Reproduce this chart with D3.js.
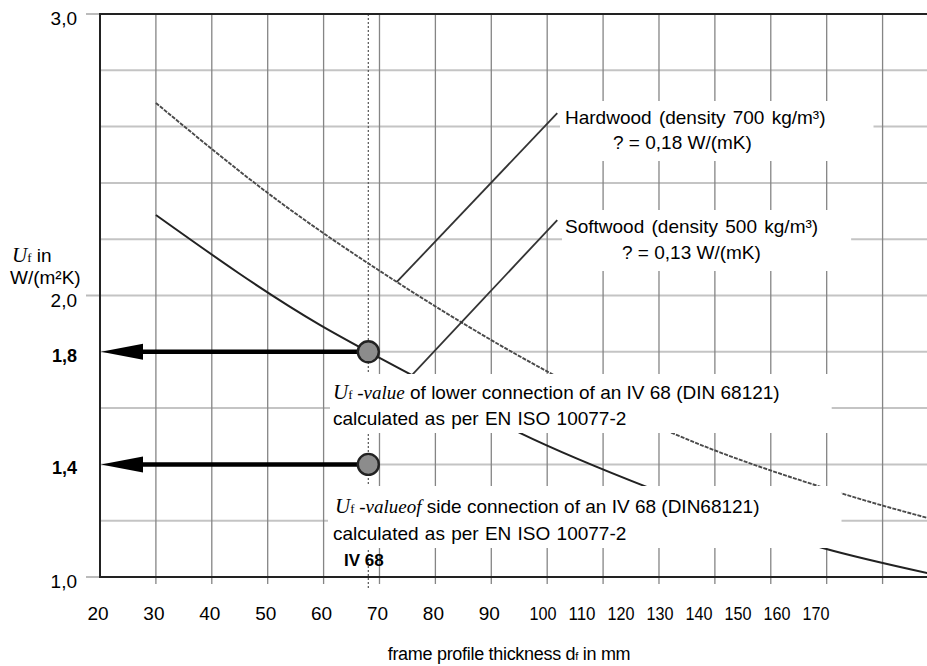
<!DOCTYPE html>
<html>
<head>
<meta charset="utf-8">
<script src="https://d3js.org/d3.v7.min.js"></script>
<style>
  body { margin: 0; background: #fff; }
  svg { display: block; }
  text { font-family: "Liberation Sans", Arial, sans-serif; fill: #000; }
  .serif { font-family: "Liberation Serif", "Times New Roman", serif; }
</style>
</head>
<body>
<div id="chart"></div>
<script>
// thickness ticks (mm) and U values
var xTicksLeft = [20, 30, 40, 50, 60, 70, 80, 90];
var xTicksRight = [100, 110, 120, 130, 140, 150, 160, 170];
var yTickLabels = [{ v: 3.0, t: "3,0" }, { v: 2.0, t: "2,0" }, { v: 1.0, t: "1,0" }];
var yMarkLabels = [{ v: 1.8, t: "1,8" }, { v: 1.4, t: "1,4" }];

// upper (hardwood) curve
var upperX = [30, 51.7, 73.1, 101.8, 122.3, 150.1, 156.5, 168];
var upperY = [2.684, 2.339, 2.048, 1.711, 1.512, 1.313, 1.274, 1.21];
// lower (softwood) curve
var lowerX = [30, 59.4, 68, 75.8, 95.1, 118.7, 149.3, 168];
var lowerY = [2.286, 1.895, 1.8, 1.717, 1.512, 1.313, 1.103, 1.014];
// leader lines to the wood labels
var hardwoodLine = [[73.1, 2.048], [101.8, 2.648]];
var softwoodLine = [[75.8, 1.717], [101.8, 2.268]];
// IV 68 points
var profileX = 68;
var markerY = [1.8, 1.4];

var width = 927, height = 666;
var svg = d3.select("#chart").append("svg")
  .attr("width", width).attr("height", height);

var x = d3.scaleLinear().domain([20, 168]).range([100, 927.3]);
var y = d3.scaleLinear().domain([1, 3]).range([577, 14]);
// the labels 100..170 are squeezed together in the original
var xLab = d3.scaleLinear().domain([100, 170]).range([543, 816]);

// grid
var grid = svg.append("g");
grid.selectAll(".hg").data(d3.range(1, 3.01, 0.2))
  .enter().append("line")
  .attr("x1", x(20)).attr("x2", width)
  .attr("y1", d => y(d)).attr("y2", d => y(d))
  .attr("stroke", "#c4c4c4").attr("stroke-width", 2);
grid.selectAll(".vg").data(d3.range(30, 161, 10))
  .enter().append("line")
  .attr("x1", d => x(d)).attr("x2", d => x(d))
  .attr("y1", y(3)).attr("y2", y(1) + 7)
  .attr("stroke", "#858585").attr("stroke-width", 1.3);
// small ticks on the y axis
grid.selectAll(".yt").data(yTickLabels)
  .enter().append("line")
  .attr("x1", x(20) - 14).attr("x2", x(20))
  .attr("y1", d => y(d.v)).attr("y2", d => y(d.v))
  .attr("stroke", "#bbb").attr("stroke-width", 2);

// IV 68 dotted line
svg.append("line")
  .attr("x1", x(profileX)).attr("x2", x(profileX))
  .attr("y1", y(3)).attr("y2", y(1) + 12)
  .attr("stroke", "#555").attr("stroke-width", 1.2)
  .attr("stroke-dasharray", "2,2");

// curves
var line = d3.line().x(d => x(d[0])).y(d => y(d[1])).curve(d3.curveMonotoneX);
svg.append("path")
  .datum(upperX.map((v, i) => [v, upperY[i]]))
  .attr("d", line).attr("fill", "none")
  .attr("stroke", "#4a4a4a").attr("stroke-width", 1.9)
  .attr("stroke-dasharray", "4,1.2");
svg.append("path")
  .datum(lowerX.map((v, i) => [v, lowerY[i]]))
  .attr("d", line).attr("fill", "none")
  .attr("stroke", "#222").attr("stroke-width", 2);
[hardwoodLine, softwoodLine].forEach(function (seg) {
  svg.append("path")
    .datum(seg)
    .attr("d", d3.line().x(d => x(d[0])).y(d => y(d[1])))
    .attr("fill", "none").attr("stroke", "#333").attr("stroke-width", 1.8);
});

// text blocks with white backing (they break the grid in the original)
function block(pad) {
  var g = svg.append("g");
  var bg = g.append("rect").attr("fill", "#fff");
  var t = g.append("g");
  return { g: g, t: t, fit: function () {
    var b = t.node().getBBox();
    bg.attr("x", b.x - pad[3]).attr("y", b.y - pad[0])
      .attr("width", b.width + pad[1] + pad[3]).attr("height", b.height + pad[0] + pad[2]);
  } };
}

var hw = block([6, 48, 8, 5]);
hw.t.append("text").attr("x", 565).attr("y", 124).style("font-size", "19px")
  .attr("word-spacing", "2px").text("Hardwood (density 700 kg/m³)");
hw.t.append("text").attr("x", 613).attr("y", 149).style("font-size", "19px")
  .text("? = 0,18 W/(mK)");
hw.fit();

var sw = block([6, 33, 8, 3]);
sw.t.append("text").attr("x", 565).attr("y", 233).style("font-size", "19px")
  .attr("word-spacing", "2px").text("Softwood (density 500 kg/m³)");
sw.t.append("text").attr("x", 622).attr("y", 259).style("font-size", "19px")
  .text("? = 0,13 W/(mK)");
sw.fit();

function ufLine(sel, xx, yy, ital, rest) {
  var t = sel.append("text").attr("x", xx).attr("y", yy).style("font-size", "19px");
  t.append("tspan").attr("class", "serif").style("font-style", "italic").style("font-size", "21px").text("U");
  t.append("tspan").attr("class", "serif").style("font-size", "13px").text("f");
  t.append("tspan").attr("class", "serif").style("font-style", "italic").style("font-size", "19px").text(ital);
  t.append("tspan").text(rest);
}

var bA = block([6, 52, 4, 3]);
ufLine(bA.t, 333, 399, " -value", " of lower connection of an IV 68 (DIN 68121)");
bA.t.append("text").attr("x", 333).attr("y", 425).style("font-size", "19px")
  .attr("word-spacing", "1px").text("calculated as per EN ISO 10077-2");
bA.fit();

var bB = block([8, 82, 4, 5]);
ufLine(bB.t, 335, 513, " -valueof", " side connection of an IV 68 (DIN68121)");
bB.t.append("text").attr("x", 333).attr("y", 540).style("font-size", "19px")
  .attr("word-spacing", "1px").text("calculated as per EN ISO 10077-2");
bB.fit();

svg.append("text").attr("x", 344).attr("y", 566)
  .style("font-size", "17px").style("font-weight", "bold").text("IV 68");

// frame
svg.append("line").attr("x1", x(20)).attr("x2", x(20)).attr("y1", y(3) - 1).attr("y2", y(1) + 1)
  .attr("stroke", "#222").attr("stroke-width", 2);
svg.append("line").attr("x1", x(20)).attr("x2", width).attr("y1", y(3)).attr("y2", y(3))
  .attr("stroke", "#222").attr("stroke-width", 2);
svg.append("line").attr("x1", x(20)).attr("x2", width).attr("y1", y(1)).attr("y2", y(1))
  .attr("stroke", "#222").attr("stroke-width", 2);

// arrows from points to the axis
markerY.forEach(function (v) {
  svg.append("line")
    .attr("x1", x(profileX)).attr("x2", x(20) + 38)
    .attr("y1", y(v)).attr("y2", y(v))
    .attr("stroke", "#000").attr("stroke-width", 4.5);
  svg.append("path")
    .attr("d", "M" + (x(20) + 1) + "," + y(v) + "L" + (x(20) + 43) + "," + (y(v) - 8) +
      "L" + (x(20) + 43) + "," + (y(v) + 8) + "Z")
    .attr("fill", "#000");
});
svg.selectAll(".pt").data(markerY).enter().append("circle")
  .attr("cx", x(profileX)).attr("cy", d => y(d)).attr("r", 10.5)
  .attr("fill", "#8c8c8c").attr("stroke", "#222").attr("stroke-width", 2.4);

// y labels
svg.selectAll(".yl").data(yTickLabels).enter().append("text")
  .attr("x", 77).attr("y", d => y(d.v) + 11)
  .attr("text-anchor", "end").style("font-size", "19px").text(d => d.t);
svg.selectAll(".ym").data(yMarkLabels).enter().append("text")
  .attr("x", 77).attr("y", d => y(d.v) + 10)
  .attr("text-anchor", "end").style("font-size", "18px").style("font-weight", "bold").text(d => d.t);

// x labels
svg.selectAll(".xl").data(xTicksLeft).enter().append("text")
  .attr("x", d => x(d) - 2).attr("y", 620)
  .attr("text-anchor", "middle").style("font-size", "19px").text(d => d);
svg.selectAll(".xr").data(xTicksRight).enter().append("text")
  .attr("x", d => xLab(d) - 13.5).attr("y", 620)
  .attr("textLength", 27).attr("lengthAdjust", "spacingAndGlyphs")
  .style("font-size", "19px").text(d => d);

// axis titles
var yt = svg.append("text").attr("x", 12).attr("y", 262).style("font-size", "19px");
yt.append("tspan").attr("class", "serif").style("font-style", "italic").style("font-size", "21px").text("U");
yt.append("tspan").attr("class", "serif").style("font-size", "13px").text("f");
yt.append("tspan").text(" in");
svg.append("text").attr("x", 10).attr("y", 284).style("font-size", "19px").text("W/(m²K)");

var xt = svg.append("text").attr("x", 509).attr("y", 660)
  .attr("text-anchor", "middle").style("font-size", "18px").attr("letter-spacing", "-0.3px");
xt.append("tspan").text("frame profile thickness d");
xt.append("tspan").style("font-size", "11px").text("f");
xt.append("tspan").text(" in mm");
</script>
</body>
</html>
